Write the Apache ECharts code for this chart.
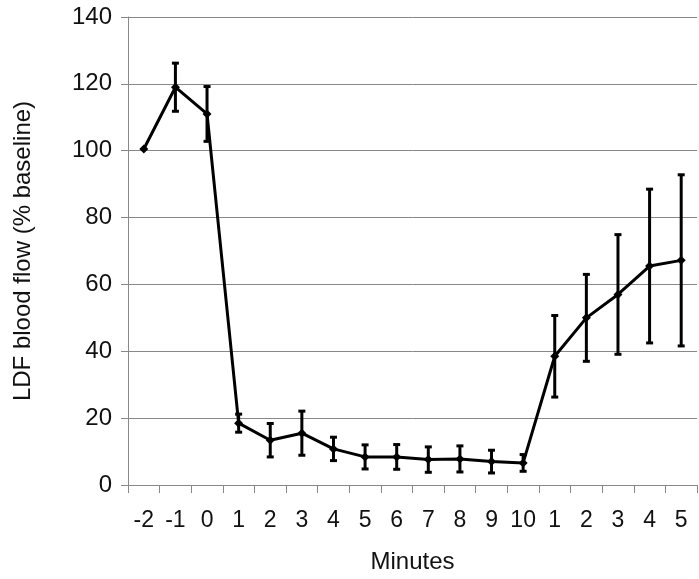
<!DOCTYPE html>
<html><head><meta charset="utf-8">
<script src="https://cdn.jsdelivr.net/npm/echarts@6/dist/echarts.min.js"></script>
<style>html,body{margin:0;padding:0;background:#fff}#c{width:699px;height:579px}</style>
</head><body><div id="c"></div>
<script>
var categories = ['-2','-1','0','1','2','3','4','5','6','7','8','9','10','1','2','3','4','5'];
var means = [100.5, 119, 111, 18.5, 13.4, 15.5, 10.8, 8.4, 8.4, 7.6, 7.8, 7.0, 6.6, 38.5, 50, 57, 65.5, 67.2];
var errors = [0, 7.2, 8.2, 2.7, 5, 6.6, 3.5, 3.6, 3.7, 3.8, 3.9, 3.4, 2.5, 12.2, 13, 17.9, 23, 25.6];
var yTicks = [0, 20, 40, 60, 80, 100, 120, 140];

var chart = echarts.init(document.getElementById('c'));
var keys = categories.map(function(c, i){ return 'k' + i; });
var errData = means.map(function(m, i){ return [i, m - errors[i], m + errors[i]]; });
var font = 'Liberation Sans, Arial, sans-serif';
var txt = '#111';
chart.setOption({
  animation: false,
  grid: {left: 128, right: 2, top: 17, bottom: 93},
  xAxis: {
    type: 'category', data: keys, boundaryGap: true,
    name: 'Minutes', nameLocation: 'middle', nameGap: 65,
    nameTextStyle: {fontFamily: font, fontSize: 24, color: txt},
    axisLine: {lineStyle: {color: '#888', width: 1}},
    axisTick: {show: true, interval: 0, alignWithLabel: false, length: 8, lineStyle: {color: '#888'}},
    axisLabel: {interval: 0, hideOverlap: false, margin: 24, fontFamily: font, fontSize: 23, color: txt,
      formatter: function(v, i){ return categories[i]; }}
  },
  yAxis: {
    type: 'value', min: yTicks[0], max: yTicks[yTicks.length-1], interval: 20,
    name: 'LDF blood flow (% baseline)', nameLocation: 'middle', nameGap: 93,
    nameTextStyle: {fontFamily: font, fontSize: 24, color: txt},
    axisLine: {show: true, lineStyle: {color: '#888', width: 1}},
    axisTick: {show: true, length: 7, lineStyle: {color: '#888'}},
    axisLabel: {margin: 16, fontFamily: font, fontSize: 24, color: txt},
    splitLine: {show: true, lineStyle: {color: '#888', width: 1}}
  },
  series: [
    {
      type: 'line', data: means, symbol: 'diamond', symbolSize: 9,
      lineStyle: {color: '#000', width: 3}, itemStyle: {color: '#000'}, z: 3
    },
    {
      type: 'custom', data: errData, z: 4,
      renderItem: function(params, api){
        var i = api.value(0);
        if (api.value(2) - api.value(1) < 0.01) return null;
        var lo = api.coord([i, api.value(1)]);
        var hi = api.coord([i, api.value(2)]);
        var hw = 3.5;
        var st = {stroke: '#000', lineWidth: 3};
        return {type: 'group', children: [
          {type: 'line', shape: {x1: lo[0], y1: lo[1], x2: hi[0], y2: hi[1]}, style: st},
          {type: 'line', shape: {x1: lo[0]-hw, y1: lo[1], x2: lo[0]+hw, y2: lo[1]}, style: st},
          {type: 'line', shape: {x1: hi[0]-hw, y1: hi[1], x2: hi[0]+hw, y2: hi[1]}, style: st}
        ]};
      }
    }
  ]
});
</script></body></html>
